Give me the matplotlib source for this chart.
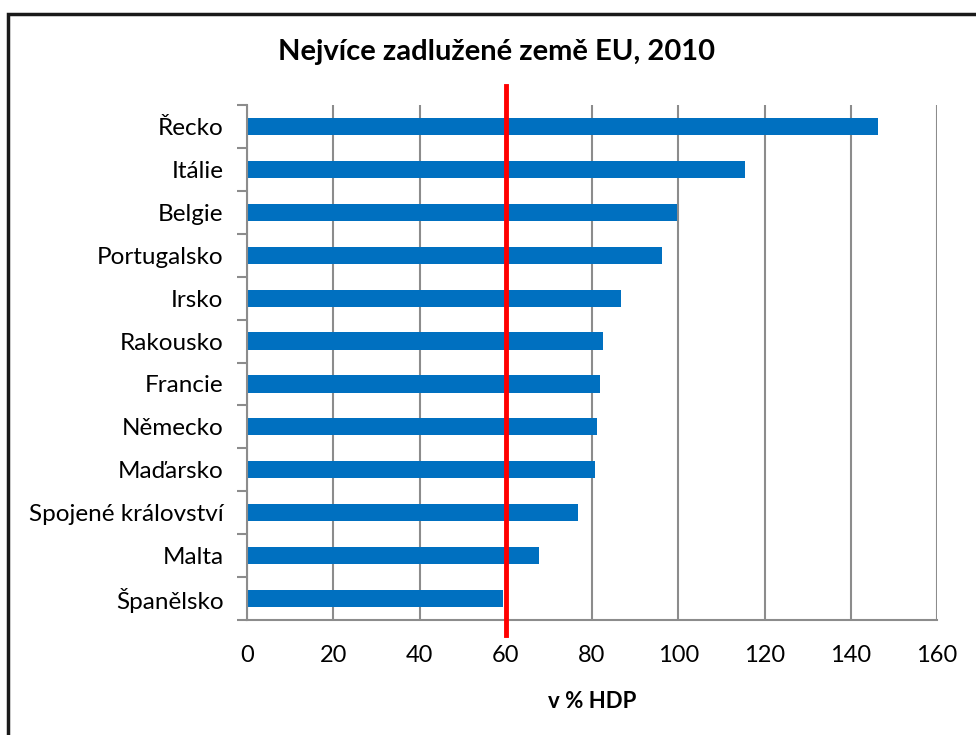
import matplotlib.pyplot as plt
from matplotlib.patches import Rectangle
from matplotlib.ticker import FixedLocator

countries = ['Řecko', 'Itálie', 'Belgie', 'Portugalsko', 'Irsko', 'Rakousko',
             'Francie', 'Německo', 'Maďarsko', 'Spojené království', 'Malta', 'Španělsko']
debt = [146.4, 115.5, 99.6, 96.2, 86.8, 82.5, 81.8, 81.1, 80.7, 76.8, 67.7, 59.4]
limit = 60
xticks = [0, 20, 40, 60, 80, 100, 120, 140, 160]

plt.rcParams['font.family'] = ['Lato', 'DejaVu Sans']

fig = plt.figure(figsize=(9.76, 7.35), dpi=100)
ax = fig.add_axes([247 / 976, 1 - 620 / 735, 690 / 976, 515 / 735])

n = len(countries)
pos = list(range(n - 1, -1, -1))
ax.barh(pos, debt, height=0.4, color='#0070C0', zorder=2)

ax.set_xlim(0, 160)
ax.set_ylim(-0.5, n - 0.5)
ax.set_xticks(xticks)
ax.set_xticklabels([str(t) for t in xticks], fontsize=17)
ax.set_yticks(pos)
ax.set_yticklabels(countries, fontsize=17.5)
ax.tick_params(axis='y', length=0, pad=17)
ax.tick_params(axis='x', length=0, pad=18)

# tick marks between categories on the left spine
ax.yaxis.set_minor_locator(FixedLocator([i - 0.5 for i in range(n + 1)]))
ax.tick_params(axis='y', which='minor', length=7, width=1.5, color='#8c8c8c', direction='out')
ax.xaxis.set_minor_locator(FixedLocator(xticks))
ax.tick_params(axis='x', which='minor', length=7, width=1.5, color='#8c8c8c', direction='out')

ax.grid(axis='x', color='#8c8c8c', linewidth=1.5, zorder=1)
for s in ['top', 'right']:
    ax.spines[s].set_visible(False)
for s in ['left', 'bottom']:
    ax.spines[s].set_color('#8c8c8c')
    ax.spines[s].set_linewidth(1.5)

# 60 % limit line
ax.axvline(limit, ymin=-0.03, ymax=1.037, color='#ff0000', linewidth=3.5, zorder=3, clip_on=False)

ax.set_xlabel('v % HDP', fontsize=16, fontweight='bold', labelpad=18)
fig.text(497 / 976, 1 - 52 / 735, 'Nejvíce zadlužené země EU, 2010', fontsize=21,
         fontweight='bold', ha='center', va='center')

fig.patches.append(Rectangle((8 / 976, -0.1), 1.2, 1 - 14 / 735 + 0.1, transform=fig.transFigure,
                             fill=False, edgecolor='#1a1a1a', linewidth=2.5))

fig.savefig('out.png', dpi=100)
